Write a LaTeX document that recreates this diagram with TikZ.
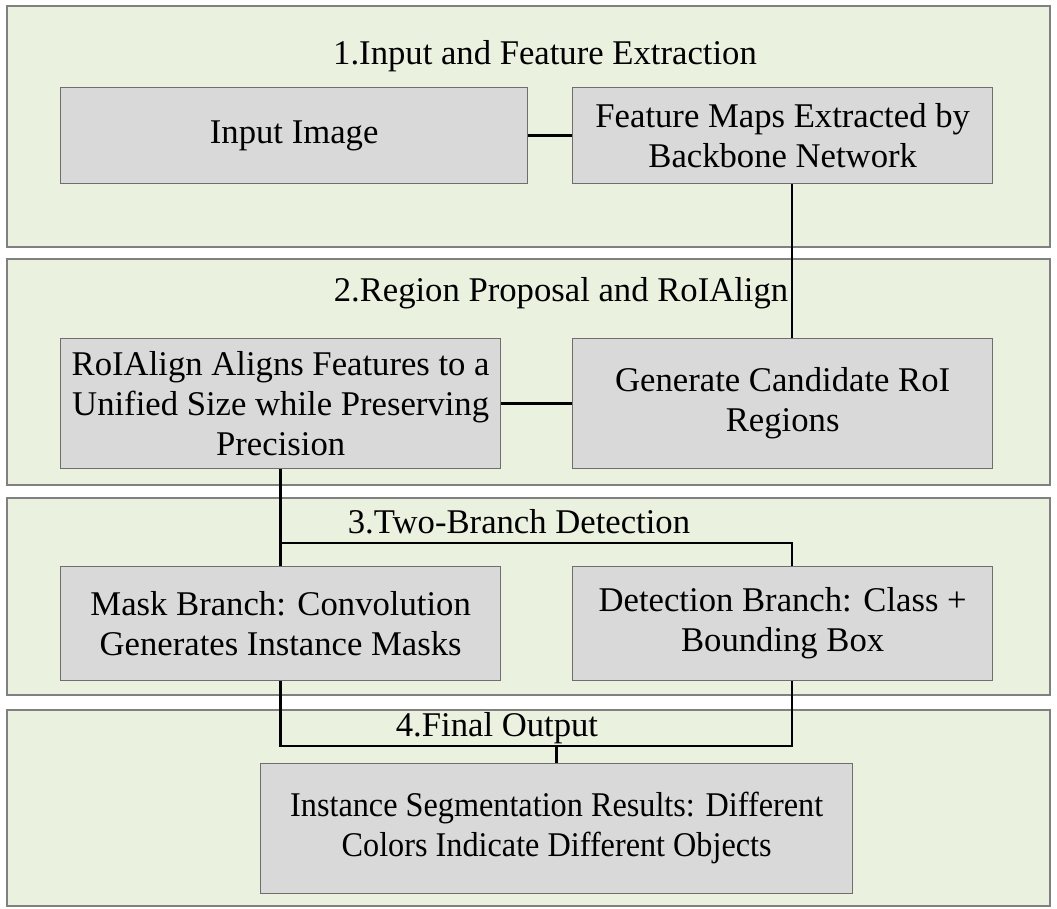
\documentclass[tikz,border=0pt]{standalone}
\usepackage{fontspec}
\setmainfont{Liberation Serif}
\definecolor{panelfill}{RGB}{234,241,223}
\definecolor{panelline}{RGB}{128,128,128}
\definecolor{boxfill}{RGB}{217,217,217}
\definecolor{boxline}{RGB}{110,110,110}
\begin{document}
\begin{tikzpicture}[x=0.75pt,y=-0.75pt,
  panel/.style={draw=panelline,fill=panelfill,line width=1.4pt},
  ttl/.style={font=\fontsize{26}{30}\selectfont,inner sep=0pt,anchor=center},
  stepbox/.style={draw=boxline,fill=boxfill,line width=1pt,align=center,
    font=\fontsize{26}{30}\selectfont,inner sep=0pt,anchor=north west},
  link/.style={draw=black,line width=1.8pt}]
\useasboundingbox (0,0) rectangle (1057,909);
\fill[white] (0,0) rectangle (1057,909);
% panels
\draw[panel] (7,6) rectangle (1050,247);
\draw[panel] (7,259) rectangle (1050,485);
\draw[panel] (7,498) rectangle (1050,695);
\draw[panel] (7,710) rectangle (1050,906);
% titles
\node[ttl] (t1) at (545,56) {1.Input and Feature Extraction};
\node[ttl] (t2) at (561,293) {2.Region Proposal and RoIAlign};
\node[ttl] (t3) at (519,522) {3.Two-Branch Detection};
\node[ttl] (t4) at (497,728) {4.Final Output};
% boxes
\node[stepbox,minimum width=467*0.75pt,minimum height=96*0.75pt] (inp) at (60,87) {Input Image};
\node[stepbox,minimum width=420*0.75pt,minimum height=96*0.75pt] (feat) at (572,87) {Feature Maps Extracted by\\Backbone Network};
\node[stepbox,minimum width=440*0.75pt,minimum height=130*0.75pt] (roi) at (60,338) {RoIAlign Aligns Features to a\\Unified Size while Preserving\\Precision};
\node[stepbox,minimum width=420*0.75pt,minimum height=130*0.75pt] (gen) at (572,338) {Generate Candidate RoI\\Regions};
\node[stepbox,minimum width=440*0.75pt,minimum height=114*0.75pt] (mask) at (60,566) {Mask Branch: Convolution\\Generates Instance Masks};
\node[stepbox,minimum width=420*0.75pt,minimum height=114*0.75pt] (det) at (572,566) {Detection Branch: Class +\\Bounding Box};
\node[stepbox,minimum width=592*0.75pt,minimum height=130*0.75pt] (out) at (260,763) {\scalebox{0.93}[1]{\begin{tabular}{@{}c@{}}Instance Segmentation Results: Different\\Colors Indicate Different Objects\end{tabular}}};
% junctions
\coordinate (j1) at (792,543);
\coordinate (j2) at (792,746);
% connectors
\draw[link] (inp.east) -- (feat.west);
\draw[link] (feat.south -| j1) -- (gen.north -| j1);
\draw[link] (gen.west) -- (roi.east);
\draw[link] (roi.south) -- (mask.north);
\draw[link] (roi.south |- j1) -- (j1) -- (det.north -| j1);
\draw[link] (mask.south) |- (j2) -- (det.south -| j2);
\draw[link] (out.north) -- (out.north |- j2);
\end{tikzpicture}
\end{document}
